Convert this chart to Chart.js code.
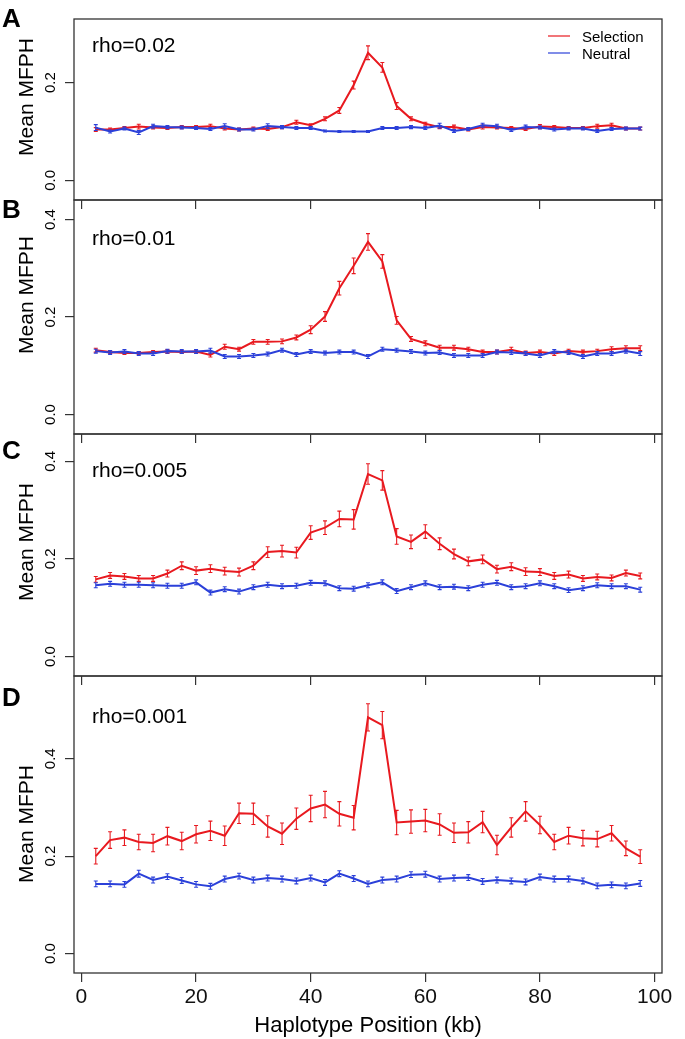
<!DOCTYPE html>
<html>
<head>
<meta charset="utf-8">
<script src="https://cdn.jsdelivr.net/npm/chart.js@4.4.1/dist/chart.umd.min.js"></script>
<style>
  body { margin: 0; background: #fff; }
  #wrap { position: relative; width: 685px; height: 1039px; }
  #wrap canvas { position: absolute; left: 0; }
</style>
</head>
<body>
<div id="wrap">
  <canvas id="panelA" width="685" height="215" style="top:0px"></canvas>
  <canvas id="panelB" width="685" height="259" style="top:190px"></canvas>
  <canvas id="panelC" width="685" height="267" style="top:424px"></canvas>
  <canvas id="panelD" width="685" height="373" style="top:666px"></canvas>
</div>
<script>
// haplotype positions (kb)
const positions = [2.5, 5, 7.5, 10, 12.5, 15, 17.5, 20, 22.5, 25, 27.5, 30, 32.5, 35, 37.5, 40, 42.5, 45, 47.5, 50,
  52.5, 55, 57.5, 60, 62.5, 65, 67.5, 70, 72.5, 75, 77.5, 80, 82.5, 85, 87.5, 90, 92.5, 95, 97.5];
const xTicks = [0, 20, 40, 60, 80, 100];

// rho = 0.02
const selectionA = [0.104, 0.104, 0.107, 0.110, 0.108, 0.107, 0.109, 0.109, 0.111, 0.106, 0.104, 0.106, 0.105, 0.109, 0.119, 0.113, 0.126, 0.143, 0.195, 0.261,
  0.231, 0.152, 0.126, 0.116, 0.109, 0.109, 0.104, 0.109, 0.108, 0.107, 0.105, 0.110, 0.109, 0.107, 0.107, 0.111, 0.113, 0.106, 0.106];
const selectionErrA = [0.004, 0.003, 0.003, 0.005, 0.003, 0.003, 0.003, 0.003, 0.004, 0.003, 0.003, 0.003, 0.003, 0.003, 0.004, 0.003, 0.004, 0.006, 0.008, 0.014,
  0.010, 0.007, 0.004, 0.003, 0.003, 0.004, 0.003, 0.004, 0.003, 0.003, 0.003, 0.004, 0.003, 0.003, 0.003, 0.004, 0.004, 0.003, 0.003];
const neutralA = [0.108, 0.100, 0.106, 0.098, 0.111, 0.109, 0.108, 0.107, 0.105, 0.111, 0.104, 0.104, 0.111, 0.109, 0.107, 0.107, 0.101, 0.100, 0.100, 0.100,
  0.107, 0.107, 0.109, 0.107, 0.112, 0.101, 0.105, 0.113, 0.111, 0.103, 0.109, 0.108, 0.104, 0.106, 0.106, 0.101, 0.105, 0.106, 0.106];
const neutralErrA = [0.006, 0.003, 0.003, 0.004, 0.004, 0.003, 0.003, 0.003, 0.003, 0.005, 0.003, 0.003, 0.005, 0.003, 0.003, 0.003, 0.002, 0.002, 0.002, 0.002,
  0.003, 0.003, 0.003, 0.003, 0.005, 0.003, 0.003, 0.004, 0.004, 0.003, 0.004, 0.003, 0.003, 0.003, 0.003, 0.003, 0.003, 0.003, 0.003];

// rho = 0.01
const selectionB = [0.132, 0.128, 0.126, 0.126, 0.128, 0.129, 0.128, 0.129, 0.122, 0.139, 0.134, 0.149, 0.149, 0.150, 0.158, 0.174, 0.201, 0.259, 0.305, 0.354,
  0.314, 0.193, 0.155, 0.146, 0.137, 0.137, 0.134, 0.128, 0.128, 0.133, 0.126, 0.128, 0.125, 0.130, 0.128, 0.130, 0.134, 0.136, 0.136];
const selectionErrB = [0.004, 0.003, 0.003, 0.003, 0.003, 0.004, 0.003, 0.003, 0.004, 0.005, 0.004, 0.005, 0.005, 0.005, 0.005, 0.008, 0.010, 0.014, 0.016, 0.017,
  0.014, 0.008, 0.005, 0.005, 0.005, 0.005, 0.004, 0.004, 0.004, 0.005, 0.004, 0.004, 0.004, 0.004, 0.004, 0.004, 0.005, 0.005, 0.005];
const neutralB = [0.130, 0.127, 0.129, 0.125, 0.125, 0.130, 0.129, 0.129, 0.131, 0.119, 0.119, 0.121, 0.124, 0.132, 0.123, 0.129, 0.126, 0.128, 0.128, 0.119,
  0.134, 0.132, 0.129, 0.126, 0.127, 0.121, 0.121, 0.121, 0.128, 0.127, 0.125, 0.121, 0.129, 0.127, 0.119, 0.125, 0.125, 0.130, 0.125];
const neutralErrB = [0.004, 0.004, 0.004, 0.004, 0.004, 0.004, 0.004, 0.004, 0.005, 0.004, 0.004, 0.004, 0.004, 0.004, 0.004, 0.004, 0.004, 0.004, 0.004, 0.004,
  0.004, 0.004, 0.004, 0.004, 0.004, 0.004, 0.004, 0.004, 0.004, 0.004, 0.004, 0.004, 0.004, 0.004, 0.004, 0.004, 0.004, 0.004, 0.004];

// rho = 0.005
const selectionC = [0.158, 0.166, 0.164, 0.160, 0.160, 0.170, 0.186, 0.176, 0.180, 0.175, 0.173, 0.186, 0.214, 0.216, 0.213, 0.254, 0.264, 0.282, 0.281, 0.374,
  0.361, 0.246, 0.235, 0.256, 0.231, 0.210, 0.195, 0.199, 0.179, 0.184, 0.174, 0.173, 0.165, 0.168, 0.160, 0.163, 0.161, 0.171, 0.165];
const selectionErrC = [0.006, 0.006, 0.006, 0.006, 0.006, 0.007, 0.008, 0.008, 0.008, 0.008, 0.008, 0.008, 0.011, 0.012, 0.011, 0.014, 0.014, 0.016, 0.020, 0.021,
  0.020, 0.016, 0.014, 0.014, 0.012, 0.010, 0.009, 0.009, 0.008, 0.008, 0.008, 0.007, 0.007, 0.007, 0.006, 0.006, 0.006, 0.006, 0.006];
const neutralC = [0.146, 0.149, 0.147, 0.147, 0.146, 0.145, 0.145, 0.152, 0.131, 0.138, 0.133, 0.142, 0.147, 0.144, 0.145, 0.151, 0.150, 0.140, 0.139, 0.146,
  0.152, 0.134, 0.142, 0.150, 0.142, 0.143, 0.140, 0.147, 0.151, 0.142, 0.144, 0.150, 0.144, 0.136, 0.140, 0.146, 0.144, 0.144, 0.137];
const neutralErrC = [0.005, 0.005, 0.005, 0.005, 0.005, 0.005, 0.005, 0.005, 0.005, 0.005, 0.005, 0.005, 0.005, 0.005, 0.005, 0.005, 0.005, 0.005, 0.005, 0.005,
  0.005, 0.005, 0.005, 0.005, 0.005, 0.005, 0.005, 0.005, 0.005, 0.005, 0.005, 0.005, 0.005, 0.005, 0.005, 0.005, 0.005, 0.005, 0.005];

// rho = 0.001
const selectionD = [0.200, 0.233, 0.238, 0.229, 0.227, 0.241, 0.231, 0.245, 0.252, 0.242, 0.288, 0.287, 0.261, 0.246, 0.277, 0.298, 0.306, 0.287, 0.279, 0.485,
  0.469, 0.269, 0.271, 0.273, 0.265, 0.248, 0.249, 0.270, 0.223, 0.259, 0.292, 0.264, 0.229, 0.242, 0.237, 0.235, 0.247, 0.216, 0.199];
const selectionErrD = [0.016, 0.017, 0.016, 0.016, 0.018, 0.018, 0.018, 0.018, 0.020, 0.020, 0.021, 0.022, 0.022, 0.022, 0.022, 0.027, 0.027, 0.025, 0.025, 0.028,
  0.028, 0.025, 0.024, 0.023, 0.022, 0.020, 0.022, 0.022, 0.020, 0.020, 0.020, 0.018, 0.016, 0.017, 0.016, 0.016, 0.016, 0.015, 0.014];
const neutralD = [0.143, 0.143, 0.142, 0.164, 0.151, 0.158, 0.150, 0.142, 0.138, 0.153, 0.159, 0.151, 0.155, 0.153, 0.149, 0.155, 0.146, 0.164, 0.154, 0.143,
  0.151, 0.153, 0.162, 0.163, 0.153, 0.155, 0.156, 0.148, 0.151, 0.149, 0.147, 0.157, 0.153, 0.153, 0.149, 0.139, 0.141, 0.139, 0.144];
const neutralErrD = [0.006, 0.006, 0.006, 0.007, 0.006, 0.006, 0.006, 0.006, 0.006, 0.006, 0.006, 0.006, 0.006, 0.006, 0.006, 0.006, 0.006, 0.006, 0.006, 0.006,
  0.006, 0.006, 0.006, 0.006, 0.006, 0.006, 0.006, 0.006, 0.006, 0.006, 0.006, 0.006, 0.006, 0.006, 0.006, 0.006, 0.006, 0.006, 0.006];

const RED = '#e8191f';
const BLUE = '#2b40d9';
const FONT = '"Liberation Sans", Arial, Helvetica, sans-serif';

Chart.defaults.font.family = FONT;
Chart.defaults.color = '#000';

// canvas top, box top/bottom (page px), y range, label spots
const panels = [
  { id: 'panelA', letter: 'A', rho: 'rho=0.02', sel: selectionA, selErr: selectionErrA, neu: neutralA, neuErr: neutralErrA,
    top: 0, boxTop: 19, boxBottom: 200, yMax: 0.33, yTicks: [0, 0.2], letterY: 27, rhoY: 52, titleY: 97, legend: true },
  { id: 'panelB', letter: 'B', rho: 'rho=0.01', sel: selectionB, selErr: selectionErrB, neu: neutralB, neuErr: neutralErrB,
    top: 190, boxTop: 200, boxBottom: 434, yMax: 0.44, yTicks: [0, 0.2, 0.4], letterY: 218, rhoY: 245, titleY: 295 },
  { id: 'panelC', letter: 'C', rho: 'rho=0.005', sel: selectionC, selErr: selectionErrC, neu: neutralC, neuErr: neutralErrC,
    top: 424, boxTop: 434, boxBottom: 676, yMax: 0.456, yTicks: [0, 0.2, 0.4], letterY: 459, rhoY: 477, titleY: 542 },
  { id: 'panelD', letter: 'D', rho: 'rho=0.001', sel: selectionD, selErr: selectionErrD, neu: neutralD, neuErr: neutralErrD,
    top: 666, boxTop: 676, boxBottom: 973, yMax: 0.57, yTicks: [0, 0.2, 0.4], letterY: 706, rhoY: 723, titleY: 824, xLabels: true }
];

function makeDecor(p) {
  return {
    id: 'decor',
    afterDatasetDraw(chart, args) {
      const ds = chart.data.datasets[args.index];
      const xs = chart.scales.x, ys = chart.scales.y;
      const ctx = chart.ctx;
      ctx.save();
      ctx.strokeStyle = ds.borderColor;
      ctx.lineWidth = 1.1;
      ctx.beginPath();
      ds.data.forEach((pt, i) => {
        const e = ds.errors[i];
        const x = xs.getPixelForValue(pt.x);
        const y1 = ys.getPixelForValue(pt.y - e);
        const y2 = ys.getPixelForValue(pt.y + e);
        ctx.moveTo(x, y1); ctx.lineTo(x, y2);
        ctx.moveTo(x - 2, y1); ctx.lineTo(x + 2, y1);
        ctx.moveTo(x - 2, y2); ctx.lineTo(x + 2, y2);
      });
      ctx.stroke();
      ctx.restore();
    },
    afterDraw(chart) {
      const ctx = chart.ctx;
      const a = chart.chartArea;
      const ys = chart.scales.y;
      const off = p.top;
      ctx.save();
      // box
      ctx.strokeStyle = '#333';
      ctx.lineWidth = 1.3;
      ctx.strokeRect(a.left, a.top, a.right - a.left, a.bottom - a.top);
      ctx.fillStyle = '#000';
      // y tick labels, rotated like R
      ctx.font = '15px ' + FONT;
      ctx.textAlign = 'center';
      ctx.textBaseline = 'alphabetic';
      ys.ticks.forEach(t => {
        ctx.save();
        ctx.translate(55, ys.getPixelForValue(t.value));
        ctx.rotate(-Math.PI / 2);
        ctx.fillText(t.value.toFixed(1), 0, 0);
        ctx.restore();
      });
      // y title
      ctx.font = '21px ' + FONT;
      ctx.save();
      ctx.translate(33, p.titleY - off);
      ctx.rotate(-Math.PI / 2);
      ctx.fillText('Mean MFPH', 0, 0);
      ctx.restore();
      // panel letter
      ctx.textAlign = 'left';
      ctx.font = 'bold 26px ' + FONT;
      ctx.fillText(p.letter, 2, p.letterY - off);
      // rho label
      ctx.font = '21px ' + FONT;
      ctx.fillText(p.rho, 92, p.rhoY - off);
      // legend
      if (p.legend) {
        ctx.font = '15px ' + FONT;
        [['Selection', RED, 36], ['Neutral', BLUE, 53]].forEach(([txt, col, y]) => {
          ctx.strokeStyle = col;
          ctx.lineWidth = 1.2;
          ctx.beginPath();
          ctx.moveTo(548, y - off); ctx.lineTo(570, y - off);
          ctx.stroke();
          ctx.fillText(txt, 582, y + 6 - off);
        });
      }
      // x title
      if (p.xLabels) {
        ctx.font = '22px ' + FONT;
        ctx.textAlign = 'center';
        ctx.fillText('Haplotype Position (kb)', (a.left + a.right) / 2, 1032 - off);
      }
      ctx.restore();
    }
  };
}

panels.forEach(p => {
  const canvas = document.getElementById(p.id);
  const padTop = p.boxTop - p.top;
  const xAxisHeight = canvas.height - (p.boxBottom - p.top);
  new Chart(canvas.getContext('2d'), {
    type: 'line',
    data: {
      datasets: [
        { label: 'Selection', data: positions.map((x, i) => ({ x: x, y: p.sel[i] })), errors: p.selErr,
          borderColor: RED, borderWidth: 2, pointRadius: 0, tension: 0, fill: false, order: 2 },
        { label: 'Neutral', data: positions.map((x, i) => ({ x: x, y: p.neu[i] })), errors: p.neuErr,
          borderColor: BLUE, borderWidth: 2, pointRadius: 0, tension: 0, fill: false, order: 1 }
      ]
    },
    options: {
      responsive: false,
      animation: false,
      events: [],
      layout: { padding: { top: padTop, right: 23, left: 0, bottom: 0 }, autoPadding: false },
      plugins: { legend: { display: false }, tooltip: { enabled: false } },
      scales: {
        x: {
          type: 'linear', min: -1.3, max: 101.3,
          afterBuildTicks: s => { s.ticks = xTicks.map(v => ({ value: v })); },
          afterFit: s => { s.height = xAxisHeight; },
          grid: { drawOnChartArea: false, drawTicks: true, tickLength: 9, color: '#333', lineWidth: 1.2 },
          border: { display: false },
          ticks: { display: !!p.xLabels, font: { size: 21 }, color: '#111', padding: 3, maxRotation: 0, autoSkip: false,
            callback: v => String(v) }
        },
        y: {
          type: 'linear', min: -0.04, max: p.yMax,
          afterBuildTicks: s => { s.ticks = p.yTicks.map(v => ({ value: v })); },
          afterFit: s => { s.width = 74; },
          grid: { drawOnChartArea: false, drawTicks: true, tickLength: 9, color: '#333', lineWidth: 1.2 },
          border: { display: false },
          ticks: { display: false }
        }
      }
    },
    plugins: [makeDecor(p)]
  });
});
</script>
</body>
</html>
